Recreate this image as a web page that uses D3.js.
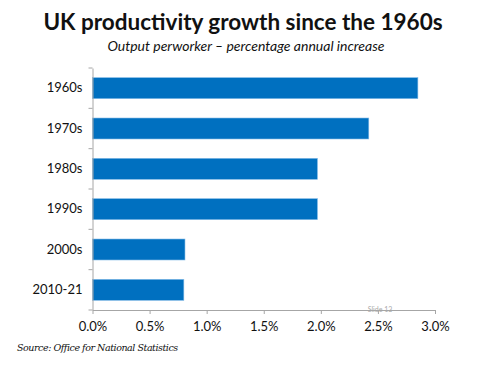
<!DOCTYPE html>
<html>
<head>
<meta charset="utf-8">
<style>
  body { margin: 0; background: #fff; }
</style>
</head>
<body>
<svg id="chart" width="494" height="370" viewBox="0 0 494 370" xmlns="http://www.w3.org/2000/svg"></svg>
<script src="https://d3js.org/d3.v7.min.js"></script>
<script>

const categories = ["1960s", "1970s", "1980s", "1990s", "2000s", "2010-21"];
const growth = [2.85, 2.42, 1.97, 1.97, 0.81, 0.80]; // % annual increase
const xTicks = [0, 0.5, 1.0, 1.5, 2.0, 2.5, 3.0];

const width = 494, height = 370;
const margin = { top: 68, right: 59, bottom: 60, left: 92.5 };
const sans = "Lato, 'Open Sans', sans-serif";

const svg = d3.select("#chart");

const x = d3.scaleLinear()
  .domain([0, 3])
  .range([margin.left, width - margin.right]);

const y = d3.scaleBand()
  .domain(categories)
  .range([margin.top, height - margin.bottom])
  .paddingInner(0.48)
  .paddingOuter(0.24);

// Title + subtitle
svg.append("text")
  .attr("x", 243)
  .attr("y", 30)
  .attr("text-anchor", "middle")
  .attr("font-family", sans)
  .attr("font-size", "22.5px")
  .attr("font-weight", "bold")
  .attr("fill", "#111")
  .text("UK productivity growth since the 1960s");

svg.append("text")
  .attr("x", 246)
  .attr("y", 51)
  .attr("text-anchor", "middle")
  .attr("font-family", sans)
  .attr("font-size", "14px")
  .attr("font-style", "italic")
  .attr("fill", "#111")
  .text("Output perworker \u2013 percentage annual increase");

// Bars
svg.selectAll("rect.bar")
  .data(categories)
  .join("rect")
  .attr("class", "bar")
  .attr("x", x(0))
  .attr("y", d => y(d))
  .attr("width", (d, i) => x(growth[i]) - x(0))
  .attr("height", y.bandwidth())
  .attr("fill", "#0070c0")
  .attr("stroke", "#7fb8e6")
  .attr("stroke-width", 0.6);

// Y axis
const yAxis = svg.append("g")
  .attr("transform", `translate(${x(0)},0)`)
  .call(d3.axisLeft(y).tickSize(0).tickPadding(10));
yAxis.attr("font-family", sans);
yAxis.select(".domain").attr("stroke", "#a6a6a6");
yAxis.selectAll("text")
  .attr("font-size", "13px")
  .attr("fill", "#111");

// category separator ticks on the y axis
const bounds = d3.range(categories.length + 1).map(i =>
  margin.top + i * (height - margin.bottom - margin.top) / categories.length);
svg.selectAll("line.ytick")
  .data(bounds)
  .join("line")
  .attr("class", "ytick")
  .attr("x1", x(0) - 4)
  .attr("x2", x(0))
  .attr("y1", d => d)
  .attr("y2", d => d)
  .attr("stroke", "#a6a6a6");

// X axis
const xAxis = svg.append("g")
  .attr("transform", `translate(0,${height - margin.bottom})`)
  .call(d3.axisBottom(x)
    .tickValues(xTicks)
    .tickSize(4)
    .tickSizeOuter(0)
    .tickPadding(8)
    .tickFormat(d => d.toFixed(1) + "%"));
xAxis.attr("font-family", sans);
xAxis.select(".domain").attr("stroke", "#a6a6a6");
xAxis.selectAll(".tick line").attr("stroke", "#a6a6a6");
xAxis.selectAll("text")
  .attr("font-size", "13px")
  .attr("fill", "#111");

// Slide number watermark
svg.append("text")
  .attr("x", 380)
  .attr("y", 312)
  .attr("text-anchor", "middle")
  .attr("font-family", sans)
  .attr("font-size", "7px")
  .attr("fill", "#aaa")
  .text("Slide 13");

// Source
svg.append("text")
  .attr("x", 17)
  .attr("y", 351)
  .attr("font-family", "'DejaVu Serif', 'Liberation Serif', serif")
  .attr("font-size", "9.5px")
  .attr("font-style", "italic")
  .attr("letter-spacing", "-0.45px")
  .attr("fill", "#111")
  .text("Source: Office for National Statistics");
</script>
</body>
</html>
